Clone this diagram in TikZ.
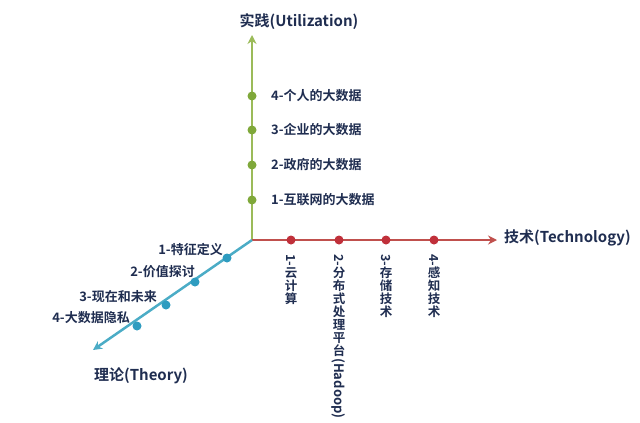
\documentclass[tikz,border=0pt]{standalone}
\usepackage{fontspec}
\setmainfont{Noto Sans CJK SC}[BoldFont={Noto Sans CJK SC Bold}]
\usetikzlibrary{arrows.meta}
\definecolor{txt}{HTML}{1F2D50}
\definecolor{ga}{HTML}{9BBB59}\definecolor{gd}{HTML}{7FA83A}
\definecolor{ra}{HTML}{C0504D}\definecolor{rd}{HTML}{C0303A}
\definecolor{ba}{HTML}{4BACC6}\definecolor{bd}{HTML}{2E9CC0}
\newcommand{\rot}[1]{\rotatebox{-90}{#1}}
\tikzset{
 axis/.style={line width=2.5pt,-{Stealth[length=9pt,width=9pt]}},
 dot/.style={circle,inner sep=0pt,minimum size=9pt},
 lbl/.style={font=\bfseries\fontsize{13}{14}\selectfont,text=txt,inner sep=1pt},
 ttl/.style={font=\bfseries\fontsize{15}{17}\selectfont,text=txt,inner sep=1pt},
 vlbl/.style={lbl,anchor=north,align=center,font=\bfseries\fontsize{12.5}{13}\selectfont}
}
\begin{document}
\begin{tikzpicture}[x=1pt,y=-1pt]
\useasboundingbox (0,0) rectangle (640,423);
\coordinate (o) at (252,240);
\coordinate (up) at (252,35);
\coordinate (rt) at (497,240);
\coordinate (dl) at (93,350);
\draw[axis,ga] (o) -- (up);
\draw[axis,ra] (o) -- (rt);
\draw[axis,ba] (o) -- (dl);
\node[ttl] (tu) at (299,22) {实践(Utilization)};
\node[ttl,anchor=west] (tt) at (503,238) {技术(Technology)};
\node[ttl] (th) at (141,376) {理论(Theory)};
% green
\foreach \y/\t [count=\i] in {96/4-个人的大数据,130/3-企业的大数据,165/2-政府的大数据,200/1-互联网的大数据}{
 \node[dot,fill=gd] (g\i) at (252,\y) {};
 \node[lbl,anchor=west] (gl\i) at (270,\y) {\t};}
% red
\foreach \x [count=\i] in {291,339,386,434}{\node[dot,fill=rd] (r\i) at (\x,240) {};}
\node[vlbl] (rl1) at (291,253) {\rot{1-}\\云\\计\\算};
\node[vlbl] (rl2) at (339,253) {\rot{2-}\\分\\布\\式\\处\\理\\平\\台};
\node[lbl,rotate=-90,anchor=west,inner sep=0pt] (rl2b) at (rl2.south) {(Hadoop)};
\node[vlbl] (rl3) at (386,253) {\rot{3-}\\存\\储\\技\\术};
\node[vlbl] (rl4) at (434,253) {\rot{4-}\\感\\知\\技\\术};
% blue
\foreach \x/\y [count=\i] in {227/258,195/282,166/305,137/326}{\node[dot,fill=bd] (b\i) at (\x,\y) {};}
\node[lbl,anchor=east] (bl1) at (224,250) {1-特征定义};
\node[lbl,anchor=east] (bl2) at (196,272) {2-价值探讨};
\node[lbl,anchor=east] (bl3) at (158,297) {3-现在和未来};
\node[lbl,anchor=east] (bl4) at (131,318) {4-大数据隐私};
\end{tikzpicture}
\end{document}
